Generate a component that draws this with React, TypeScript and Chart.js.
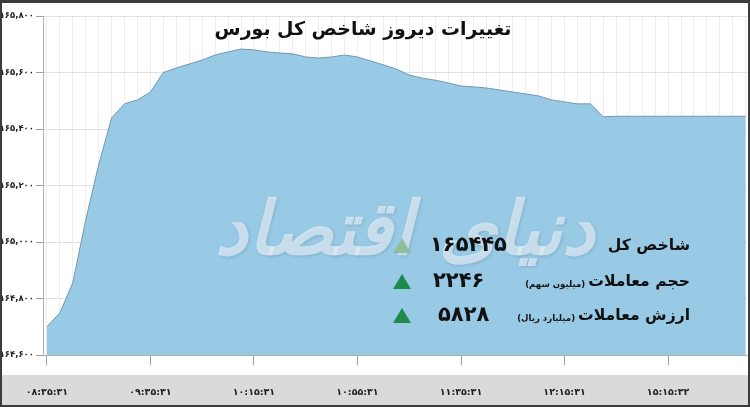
import React, { useEffect, useRef } from 'react';
import { Chart, registerables } from 'chart.js';

Chart.register(...registerables);

const titleText = 'تغییرات دیروز شاخص کل بورس';
const xTickLabels = ['۰۸:۳۵:۳۱', '۰۹:۳۵:۳۱', '۱۰:۱۵:۳۱', '۱۰:۵۵:۳۱', '۱۱:۳۵:۳۱', '۱۲:۱۵:۳۱', '۱۵:۱۵:۳۲'];
const labelEvery = 8;
const indexValues = [
  164700, 164749, 164855, 165078, 165273, 165439, 165489, 165503, 165531, 165600,
  165616, 165630, 165644, 165662, 165673, 165683, 165680, 165673, 165669, 165666,
  165655, 165651, 165655, 165662, 165655, 165641, 165627, 165612, 165591, 165580,
  165573, 165563, 165552, 165549, 165545, 165538, 165531, 165524, 165517, 165503,
  165496, 165489, 165489, 165443, 165445, 165445, 165445, 165445, 165445, 165445,
  165445, 165445, 165445, 165445, 165445,
];
const yMin = 164600;
const yMax = 165800;
const yStep = 200;
const summaryLabels = ['شاخص کل', 'حجم معاملات', 'ارزش معاملات'];
const summaryUnits = ['', '(میلیون سهم)', '(میلیارد ریال)'];
const summaryValues = ['۱۶۵۴۴۵', '۲۲۴۶', '۵۸۲۸'];
const watermarkText = 'دنیای اقتصاد';

const FONT = '"DejaVu Sans", "Noto Sans", sans-serif';
const toFa = (s: string) => s.replace(/\d/g, (d) => '۰۱۲۳۴۵۶۷۸۹'[Number(d)]);

const framePlugin = {
  id: 'frame',
  beforeDraw(chart: any) {
    const { ctx, width, height } = chart;
    ctx.save();
    ctx.fillStyle = '#ffffff';
    ctx.fillRect(0, 0, width, height);
    ctx.fillStyle = '#dadada';
    ctx.fillRect(0, 375, width, 30);
    ctx.restore();
  },
  afterDraw(chart: any) {
    const { ctx, width, height } = chart;
    ctx.save();
    ctx.fillStyle = '#3c3c3c';
    ctx.fillRect(0, 0, width, 3);
    ctx.fillRect(0, height - 2, width, 2);
    ctx.fillRect(0, 0, 2, height);
    ctx.fillRect(width - 2, 0, 2, height);
    ctx.restore();
  },
};

const fitSize = (ctx: CanvasRenderingContext2D, text: string, style: string, base: number, target: number) => {
  ctx.font = `${style} ${base}px ${FONT}`;
  const w = ctx.measureText(text).width;
  return (base * target) / w;
};

const overlayPlugin = {
  id: 'overlay',
  afterDatasetsDraw(chart: any) {
    const { ctx } = chart;
    ctx.save();
    // watermark
    ctx.direction = 'rtl';
    ctx.textAlign = 'center';
    ctx.textBaseline = 'alphabetic';
    const wm = fitSize(ctx, watermarkText, 'italic bold', 80, 380);
    ctx.font = `italic bold ${wm}px ${FONT}`;
    ctx.shadowColor = 'rgba(90,130,160,0.5)';
    ctx.shadowBlur = 3;
    ctx.shadowOffsetX = 1;
    ctx.shadowOffsetY = 1;
    ctx.fillStyle = 'rgba(226,238,247,0.72)';
    ctx.fillText(watermarkText, 405, 254);
    ctx.shadowColor = 'transparent';
    ctx.shadowBlur = 0;
    ctx.shadowOffsetX = 0;
    ctx.shadowOffsetY = 0;

    // title
    ctx.fillStyle = '#111';
    ctx.textAlign = 'center';
    ctx.textBaseline = 'middle';
    const ts = fitSize(ctx, titleText, 'bold', 22, 297);
    ctx.font = `bold ${ts}px ${FONT}`;
    ctx.fillText(titleText, 363, 30);

    // summary rows
    const rowY = [246, 282, 316];
    const triColors = ['#8fbf98', '#1f8a4c', '#1f8a4c'];
    const labelSize = fitSize(ctx, summaryLabels[2], 'bold', 18, 112);
    const unitSize = fitSize(ctx, summaryUnits[2], 'bold', 11, 58);
    rowY.forEach((y, i) => {
      ctx.fillStyle = triColors[i];
      ctx.beginPath();
      ctx.moveTo(402, y - 8);
      ctx.lineTo(393, y + 7);
      ctx.lineTo(411, y + 7);
      ctx.closePath();
      ctx.fill();

      ctx.direction = 'ltr';
      ctx.textAlign = 'left';
      ctx.textBaseline = 'middle';
      ctx.fillStyle = '#111';
      ctx.font = `bold 21px ${FONT}`;
      ctx.fillText(summaryValues[i], [430, 433, 438][i], y);

      ctx.direction = 'rtl';
      ctx.textAlign = 'right';
      ctx.font = `bold ${labelSize}px ${FONT}`;
      ctx.fillText(summaryLabels[i], 690, y);
      const lw = ctx.measureText(summaryLabels[i]).width;
      if (summaryUnits[i]) {
        ctx.font = `bold ${unitSize}px ${FONT}`;
        ctx.fillText(summaryUnits[i], 690 - lw - 3, y + 3);
      }
    });
    ctx.restore();
  },
};

export default function App() {
  const ref = useRef<HTMLCanvasElement | null>(null);
  useEffect(() => {
    if (!ref.current) return;
    const chart = new Chart(ref.current, {
      type: 'line',
      data: {
        datasets: [
          {
            data: indexValues.map((v, i) => ({ x: i, y: v })),
            borderColor: 'rgb(112,152,182)',
            borderWidth: 1,
            backgroundColor: 'rgba(146,199,228,0.95)',
            fill: 'start',
            pointRadius: 0,
            tension: 0,
          },
        ],
      },
      options: {
        animation: false,
        responsive: false,
        devicePixelRatio: 1,
        layout: { padding: { top: 16, right: 3, left: 0, bottom: 0 } },
        plugins: {
          legend: { display: false },
          tooltip: { enabled: false },
          title: { display: false },
        },
        scales: {
          x: {
            type: 'linear',
            min: -0.3,
            max: indexValues.length - 0.9,
            afterFit: (s: any) => {
              s.height = 52;
              s.paddingLeft = 0;
              s.paddingRight = 0;
            },
            afterBuildTicks: (s: any) => {
              s.ticks = indexValues.map((_, i) => ({ value: i }));
            },
            ticks: {
              autoSkip: false,
              maxRotation: 0,
              minRotation: 0,
              padding: 22,
              color: '#222',
              font: { family: FONT, weight: 'bold', size: 9.5 },
              callback: (v: any) => {
                const n = Number(v);
                return n % labelEvery === 0 ? xTickLabels[n / labelEvery] ?? '' : '';
              },
            },
            grid: {
              color: 'rgba(0,0,0,0.07)',
              tickLength: 10,
              tickColor: (c: any) =>
                c.tick && Number(c.tick.value) % labelEvery === 0 ? '#a0a0a0' : 'rgba(0,0,0,0)',
            },
            border: { display: true, color: '#b0b0b0' },
          },
          y: {
            min: yMin,
            max: yMax,
            afterFit: (s: any) => {
              s.width = 43;
              s.paddingTop = 0;
              s.paddingBottom = 0;
            },
            ticks: {
              stepSize: yStep,
              padding: 2,
              color: '#222',
              font: { family: FONT, weight: 'bold', size: 8.5 },
              callback: (v: any) => toFa(Number(v).toLocaleString('en-US')),
            },
            grid: { color: '#e0e0e0', tickLength: 7, tickColor: '#a0a0a0' },
            border: { display: true, color: '#b0b0b0' },
          },
        },
      },
      plugins: [framePlugin, overlayPlugin],
    } as any);
    return () => chart.destroy();
  }, []);
  return (
    <div style={{ position: 'fixed', left: 0, top: 0, width: 750, height: 407 }}>
      <canvas ref={ref} width={750} height={407} style={{ display: 'block' }} />
    </div>
  );
}
